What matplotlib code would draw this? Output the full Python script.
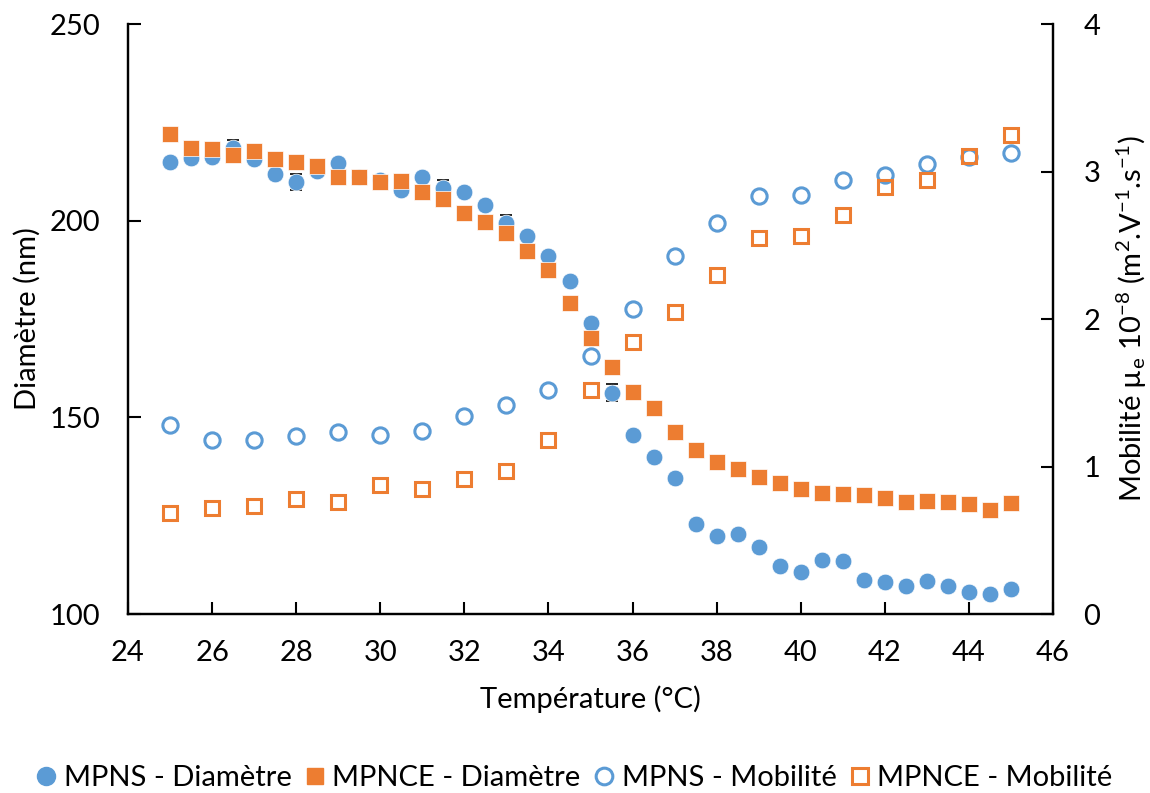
"""
Diamètre et mobilité des microgels MPNS / MPNCE en fonction de la température.
"""

import numpy as np
import matplotlib
matplotlib.use('Agg')
import matplotlib.pyplot as plt
from matplotlib.lines import Line2D

plt.rcParams['font.family'] = ['Lato', 'DejaVu Sans']
plt.rcParams['mathtext.fontset'] = 'custom'
plt.rcParams['mathtext.rm'] = 'Lato'
plt.rcParams['mathtext.it'] = 'Lato:italic'

BLUE = '#5B9BD5'
ORANGE = '#ED7D31'

# Températures (°C)
temp_diam = [25, 25.5, 26, 26.5, 27, 27.5, 28, 28.5, 29, 29.5, 30, 30.5, 31, 31.5,
             32, 32.5, 33, 33.5, 34, 34.5, 35, 35.5, 36, 36.5, 37, 37.5, 38, 38.5,
             39, 39.5, 40, 40.5, 41, 41.5, 42, 42.5, 43, 43.5, 44, 44.5, 45]
temp_mob = [25, 26, 27, 28, 29, 30, 31, 32, 33, 34, 35, 36, 37, 38, 39, 40, 41,
            42, 43, 44, 45]

# Diamètre (nm)
mpns_diam = [215.0, 215.9, 216.2, 218.5, 215.7, 211.9, 209.9, 212.7, 214.6, 211.0,
             210.4, 207.8, 211.0, 208.3, 207.3, 204.1, 199.5, 196.2, 191.1, 184.6,
             174.0, 156.3, 145.4, 139.8, 134.6, 123.0, 119.9, 120.4, 117.1, 112.1,
             110.7, 113.7, 113.6, 108.6, 108.1, 107.2, 108.5, 107.0, 105.6, 105.1,
             106.3]
mpns_diam_err = [0.5, 0.5, 0.5, 2.1, 0.5, 0.5, 2.0, 0.5, 0.5, 0.5, 0.5, 0.5, 0.5, 2.0,
                 0.5, 0.5, 2.0, 0.5, 0.5, 0.5, 0.5, 2.1, 0.5, 0.5, 0.5, 0.5, 0.5, 0.5,
                 0.5, 0.5, 0.5, 0.5, 0.5, 0.5, 0.5, 0.5, 0.5, 0.5, 0.5, 0.5, 0.5]
mpnce_diam = [222.0, 218.4, 218.2, 216.7, 217.6, 215.6, 214.9, 213.8, 211.1, 211.1,
              209.9, 210.1, 207.4, 205.5, 201.9, 199.7, 196.8, 192.4, 187.5, 179.1,
              170.2, 162.9, 156.4, 152.4, 146.4, 141.6, 138.7, 136.9, 134.9, 133.2,
              131.9, 130.8, 130.5, 130.3, 129.5, 128.5, 128.7, 128.5, 127.9, 126.5,
              128.1]

# Mobilité (1e-8 m2/V/s)
mpns_mob = [1.279, 1.180, 1.180, 1.209, 1.232, 1.216, 1.241, 1.345, 1.417, 1.516,
            1.747, 2.068, 2.430, 2.650, 2.831, 2.844, 2.944, 2.976, 3.050, 3.100,
            3.125]
mpnce_mob = [0.686, 0.717, 0.730, 0.783, 0.762, 0.873, 0.846, 0.918, 0.972, 1.180,
             1.521, 1.844, 2.047, 2.300, 2.549, 2.560, 2.707, 2.894, 2.944, 3.106,
             3.249]

fig = plt.figure(figsize=(11.5, 7.93), dpi=100)
ax = fig.add_axes([0.1113, 0.2257, 0.8044, 0.744])
ax2 = ax.twinx()

ms = 12
ax.errorbar(temp_diam, mpns_diam, yerr=mpns_diam_err, fmt='none', ecolor='black',
            elinewidth=1, capsize=4, capthick=1.2, zorder=1)
ax.plot(temp_diam, mpns_diam, 'o', color=BLUE, ms=ms, mec='white', mew=0.5, zorder=2)
ax.plot(temp_diam, mpnce_diam, 's', color=ORANGE, ms=ms - 0.5, mec='white', mew=0.5,
        zorder=3)
ax2.plot(temp_mob, mpns_mob, 'o', mfc='none', mec=BLUE, ms=ms - 1, mew=2.2)
ax2.plot(temp_mob, mpnce_mob, 's', mfc='none', mec=ORANGE, ms=ms - 1.5, mew=2.2)

ax.set_xlim(24, 46)
ax.set_ylim(100, 250)
ax2.set_ylim(0, 4)
ax.set_xticks(np.arange(24, 47, 2))
ax.set_yticks([100, 150, 200, 250])
ax2.set_yticks([0, 1, 2, 3, 4])

for a in (ax, ax2):
    a.spines['top'].set_visible(False)
    for s in ('left', 'right', 'bottom'):
        a.spines[s].set_linewidth(1.6)
        a.spines[s].set_color('black')
    a.tick_params(direction='in', length=9, width=1.5, labelsize=21, pad=20)
ax.tick_params(axis='x', pad=19)
ax2.tick_params(axis='y', pad=22)

ax.set_xlabel('Température (°C)', fontsize=21, labelpad=14)
ax.set_ylabel('Diamètre (nm)', fontsize=21, labelpad=6)
ax2.set_ylabel(r'Mobilité µ$_\mathrm{e}$ 10$^{-8}$ (m$^{2}$.V$^{-1}$.s$^{-1}$)',
               fontsize=21, labelpad=10)

handles = [
    Line2D([], [], ls='none', marker='o', color=BLUE, ms=13),
    Line2D([], [], ls='none', marker='s', color=ORANGE, ms=12),
    Line2D([], [], ls='none', marker='o', mfc='none', mec=BLUE, ms=12, mew=2.2),
    Line2D([], [], ls='none', marker='s', mfc='none', mec=ORANGE, ms=11, mew=2.2),
]
labels = ['MPNS - Diamètre', 'MPNCE - Diamètre', 'MPNS - Mobilité', 'MPNCE - Mobilité']
fig.legend(handles, labels, loc='center', bbox_to_anchor=(0.5, 0.019), ncol=4,
           frameon=False, fontsize=21, handlelength=0.6, handletextpad=0.3,
           columnspacing=0.5)

fig.savefig('out.png', dpi=100)
